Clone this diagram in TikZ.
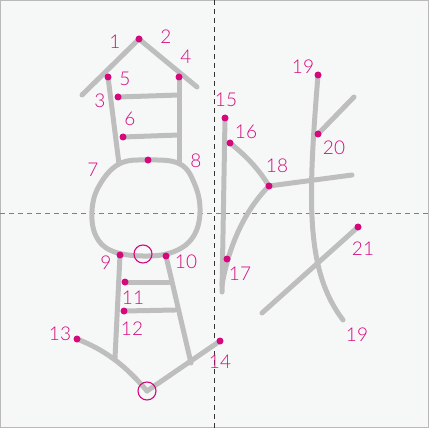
\documentclass[tikz,border=0pt]{standalone}
\usepackage{fontspec}
\setmainfont{Lato}[UprightFont=* Light]
\usepackage{xcolor}
\usetikzlibrary{calc}
\definecolor{bgpaper}{HTML}{F6F8F8}
\definecolor{strokegray}{HTML}{BEBEBE}
\definecolor{ptmagenta}{HTML}{D6087E}

\tikzset{
  stroke/.style={strokegray,line width=5pt,line cap=round,line join=round},
  ptdot/.style={fill=ptmagenta,draw=none},
  ptlabel/.style={text=ptmagenta,font=\fontsize{19}{19}\selectfont,inner sep=0pt},
  ptring/.style={draw=ptmagenta,line width=1.1pt},
}

\begin{document}
\begin{tikzpicture}[x=1pt,y=-1pt]
  \useasboundingbox (0,0) rectangle (429,428);
  \fill[bgpaper] (0,0) rectangle (429,428);
  \draw[gray!55,line width=1.2pt] (0.6,0.6) rectangle (428.4,427.4);
  % guide lines
  \draw[gray,dash pattern=on 5pt off 4pt,line width=0.9pt] (0,213) -- (429,213);
  \draw[black!80,dash pattern=on 5pt off 4pt,line width=0.9pt] (214,0) -- (214,428);

  % points
  \coordinate (p1) at (139,39);
  \coordinate (p4) at (179,77);
  \coordinate (p5) at (108,77);
  \coordinate (p3) at (118,97);
  \coordinate (p6) at (123,137);
  \coordinate (p8) at (148,160);
  \coordinate (p9) at (120,255);
  \coordinate (p10) at (166,256);
  \coordinate (p11) at (125,282);
  \coordinate (p12) at (124,311);
  \coordinate (p13) at (77,339);
  \coordinate (p14) at (220,341);
  \coordinate (p15) at (225,118);
  \coordinate (p16) at (230,143);
  \coordinate (p17) at (227,259);
  \coordinate (p18) at (269,186);
  \coordinate (p19a) at (318,75);
  \coordinate (p19b) at (343,320);
  \coordinate (p20) at (318,134);
  \coordinate (p21) at (358,227);
  \coordinate (neck) at (143,254);
  \coordinate (base) at (147,391);

  % left character
  \draw[stroke] (82,95) -- (p1) -- (197,87);
  \draw[stroke] (p5) -- (119,164);
  \draw[stroke] (p4) -- (179,164);
  \draw[stroke] (p3) -- (179,95);
  \draw[stroke] (p6) -- (179,135);
  \draw[stroke] plot[smooth cycle,tension=0.65] coordinates {
    (119,164) (148,160) (180,164) (195,185) (200,212) (193,237)
    (173,252) (143,256) (112,251) (96,236) (92,211) (99,186)};
  \draw[stroke] (p9) -- (115,358);
  \draw[stroke] (p10) -- (191,363);
  \draw[stroke] (p11) -- (169,282);
  \draw[stroke] (p12) -- (175,310);
  \draw[stroke] (p13) .. controls (105,350) and (125,365) .. (base);
  \draw[stroke] (base) -- (p14);

  % right character
  \draw[stroke] (p15) -- (222,292);
  \draw[stroke] (p16) .. controls (245,155) and (258,168) .. (p18);
  \draw[stroke] (p18) .. controls (245,210) and (229,245) .. (222,285);
  \draw[stroke] (p18) -- (352,175);
  \draw[stroke] (p19a) .. controls (308,200) and (305,270) .. (p19b);
  \draw[stroke] (p20) -- (354,97);
  \draw[stroke] (p21) -- (262,313);

  % dots
  \foreach \p in {p1,p3,p4,p5,p6,p8,p9,p10,p11,p12,p13,p14,p15,p16,p17,p18,p19a,p20,p21}
    \fill[ptdot] (\p) circle (3.5pt);
  \draw[ptring] (neck) circle (9pt);
  \draw[ptring] (base) circle (9pt);

  % labels
  \node[ptlabel] (l1) at (115,42) {1};
  \node[ptlabel] (l2) at (166,37) {2};
  \node[ptlabel] (l3) at (100,101) {3};
  \node[ptlabel] (l4) at (186,57) {4};
  \node[ptlabel] (l5) at (125,79) {5};
  \node[ptlabel] (l6) at (130,119) {6};
  \node[ptlabel] (l7) at (93,170) {7};
  \node[ptlabel] (l8) at (196,161) {8};
  \node[ptlabel] (l9) at (106,263) {9};
  \node[ptlabel] (l10) at (186,262) {10};
  \node[ptlabel] (l11) at (133,298) {11};
  \node[ptlabel] (l12) at (132,329) {12};
  \node[ptlabel] (l13) at (60,334) {13};
  \node[ptlabel] (l14) at (220,362) {14};
  \node[ptlabel] (l15) at (226,100) {15};
  \node[ptlabel] (l16) at (246,132) {16};
  \node[ptlabel] (l17) at (240,274) {17};
  \node[ptlabel] (l18) at (277,166) {18};
  \node[ptlabel] (l19a) at (303,67) {19};
  \node[ptlabel] (l20) at (334,148) {20};
  \node[ptlabel] (l21) at (363,249) {21};
  \node[ptlabel] (l19b) at (357,335) {19};
\end{tikzpicture}
\end{document}
